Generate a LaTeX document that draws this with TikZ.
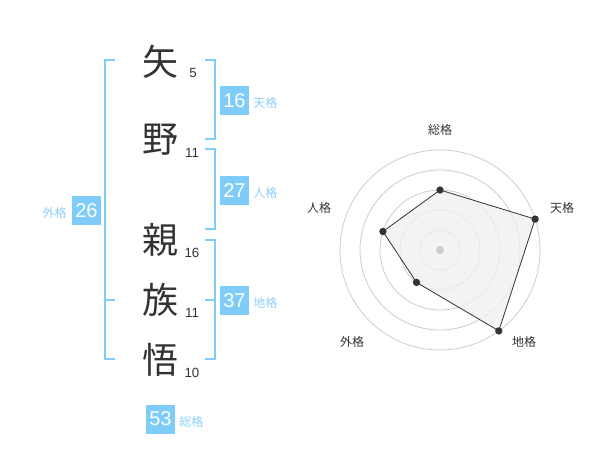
\documentclass[tikz,border=0pt]{standalone}
\usepackage{fontspec}
\setmainfont{Liberation Sans}
\newfontfamily\jp{Noto Sans CJK JP}
\definecolor{brk}{HTML}{80CCF8}
\definecolor{boxc}{HTML}{7FCCFA}
\definecolor{lbl}{HTML}{8CD0F7}
\definecolor{ink}{HTML}{333333}
\definecolor{ring}{HTML}{CCCCCC}
\definecolor{area}{HTML}{F0F0F0}
\tikzset{
  kanji/.style={text=ink,font=\jp\fontsize{27}{27}\selectfont,inner sep=0pt},
  strokes/.style={text=ink,font=\fontsize{10}{10}\selectfont,inner sep=0pt},
  valbox/.style={fill=boxc,text=white,minimum width=21.75pt,minimum height=21.75pt,inner sep=0pt,font=\fontsize{15}{15}\selectfont},
  vallbl/.style={text=lbl,font=\jp\fontsize{9}{9}\selectfont,inner sep=0pt},
  brack/.style={draw=brk,line width=1.5pt},
  rlbl/.style={text=ink,font=\jp\fontsize{9}{9}\selectfont,inner sep=0pt},
  dot/.style={circle,fill=ink,inner sep=0pt,minimum size=5.5pt},
}
\begin{document}
\begin{tikzpicture}[x=0.75pt,y=-0.75pt]
\useasboundingbox (0,0) rectangle (600,470);
% characters
\node[kanji] (c1) at (160,62) {矢};
\node[kanji] (c2) at (160,140) {野};
\node[kanji] (c3) at (160,240) {親};
\node[kanji] (c4) at (160,300) {族};
\node[kanji] (c5) at (160,360) {悟};
\node[strokes] (n1) at (193,73) {5};
\node[strokes] (n2) at (192,153) {11};
\node[strokes] (n3) at (192,253) {16};
\node[strokes] (n4) at (192,313) {11};
\node[strokes] (n5) at (192,373) {10};
% brackets
\draw[brack] (115,60) -- (105,60) -- (105,359) -- (115,359);
\draw[brack] (105,300) -- (115,300);
\draw[brack] (205,60) -- (215,60) -- (215,139) -- (205,139);
\draw[brack] (205,149) -- (215,149) -- (215,229) -- (205,229);
\draw[brack] (205,240) -- (215,240) -- (215,359) -- (205,359);
\draw[brack] (205,300) -- (215,300);
% value boxes
\node[valbox] (b16) at (234.5,100.5) {16};
\node[vallbl,anchor=west] (l16) at (253,103) {天格};
\node[valbox] (b27) at (234.5,190.5) {27};
\node[vallbl,anchor=west] (l27) at (253,193) {人格};
\node[valbox] (b37) at (234.5,300.5) {37};
\node[vallbl,anchor=west] (l37) at (253,303) {地格};
\node[valbox] (b26) at (86.5,210.5) {26};
\node[vallbl,anchor=east] (l26) at (67,213) {外格};
\node[valbox] (b53) at (160.5,419) {53};
\node[vallbl,anchor=west] (l53) at (179,422) {総格};
% radar
\coordinate (O) at (440,250);
\foreach \r in {20,40,60,80,100} \draw[ring,line width=0.6pt] (O) circle[radius=\r];
\coordinate (p1) at (440,190);
\coordinate (p2) at (535.1,219.1);
\coordinate (p3) at (498.8,330.9);
\coordinate (p4) at (416.5,282.4);
\coordinate (p5) at (382.9,231.5);
\draw[fill=area,fill opacity=0.8,draw=ink,line width=0.6pt] (p1) -- (p2) -- (p3) -- (p4) -- (p5) -- cycle;
\foreach \p in {p1,p2,p3,p4,p5} \node[dot] at (\p) {};
\node[circle,fill=ring,inner sep=0pt,minimum size=6pt] (ctr) at (O) {};
\node[rlbl] (r1) at (440,130) {総格};
\node[rlbl] (r2) at (562,208) {天格};
\node[rlbl] (r3) at (524,342) {地格};
\node[rlbl] (r4) at (352,342) {外格};
\node[rlbl] (r5) at (319,208) {人格};
\end{tikzpicture}
\end{document}
